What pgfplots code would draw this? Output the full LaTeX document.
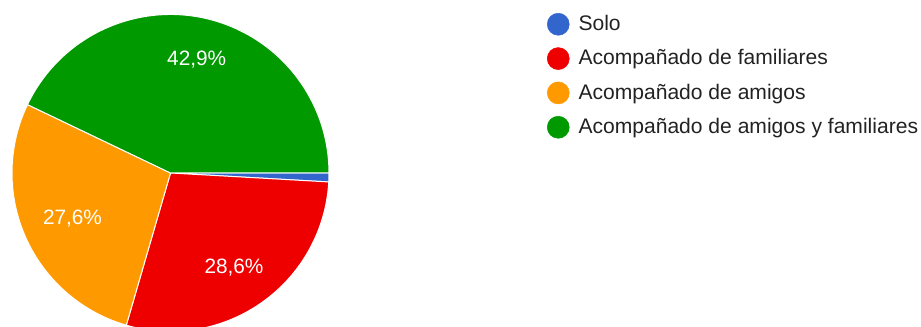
\documentclass[border=0pt]{standalone}
\usepackage{pgfplots}
\pgfplotsset{compat=1.18}
\usepackage{pgfplotstable}
\usepackage{fontspec}
\setmainfont{Liberation Sans}
\definecolor{cSolo}{HTML}{3366CC}
\definecolor{cFam}{HTML}{EE0000}
\definecolor{cAmi}{HTML}{FF9900}
\definecolor{cBoth}{HTML}{009900}
\definecolor{legtext}{HTML}{222222}

% share of answers (percent), in the order drawn clockwise from 3 o'clock
\pgfplotstableread{
value color
0.9   cSolo
28.6  cFam
27.6  cAmi
42.9  cBoth
}\piedata

\begin{document}
\begin{tikzpicture}
\begin{axis}[
  x=0.75pt, y=0.75pt,
  xmin=0, xmax=921, ymin=0, ymax=327,
  hide axis, clip=false,
  at={(0,0)}, anchor=south west,
  legend image code/.code={\fill[#1] (8.25pt,0.8pt) circle (8.25pt);},
  legend cell align=left,
  legend style={
    draw=none, fill=none, inner sep=0pt, outer sep=0pt,
    at={(axis cs:547,314)}, anchor=north west,
    font=\fontsize{15.8}{18}\selectfont, text=legtext,
    row sep=8.5pt,
    nodes={inner sep=0pt, text height=12pt, text depth=4pt},
    /tikz/every odd column/.append style={column sep=6.75pt},
  },
]
\addlegendimage{cSolo}
\addlegendentry{Solo}
\addlegendimage{cFam}
\addlegendentry{Acompañado de familiares}
\addlegendimage{cAmi}
\addlegendentry{Acompañado de amigos}
\addlegendimage{cBoth}
\addlegendentry{Acompañado de amigos y familiares}

\pgfmathsetmacro\accum{0}
\pgfplotsforeachungrouped \i in {0,...,3} {
  \pgfplotstablegetelem{\i}{value}\of\piedata \let\sliceVal\pgfplotsretval
  \pgfplotstablegetelem{\i}{color}\of\piedata \let\sliceColor\pgfplotsretval
  \pgfmathsetmacro\angA{-\accum*3.6}
  \pgfmathsetmacro\angB{-(\accum+\sliceVal)*3.6}
  \edef\cmd{\noexpand\fill[\sliceColor, draw=white, line width=0.75pt]
    (axis cs:170.5,154) -- ++(\angA:118.875pt)
    arc[start angle=\angA, end angle=\angB, radius=118.875pt] -- cycle;}
  \cmd
  \pgfmathsetmacro\accum{\accum+\sliceVal}
}

\node[anchor=base, text=white, font=\fontsize{15.6}{18}\selectfont] at (axis cs:196.7,261.3) {42,9\%};
\node[anchor=base, text=white, font=\fontsize{15.6}{18}\selectfont] at (axis cs:234,53.7) {28,6\%};
\node[anchor=base, text=white, font=\fontsize{15.6}{18}\selectfont] at (axis cs:72.5,102) {27,6\%};
\end{axis}
\pgfresetboundingbox
\useasboundingbox (0,0) rectangle (690.75pt,245.25pt);
\end{tikzpicture}
\end{document}
